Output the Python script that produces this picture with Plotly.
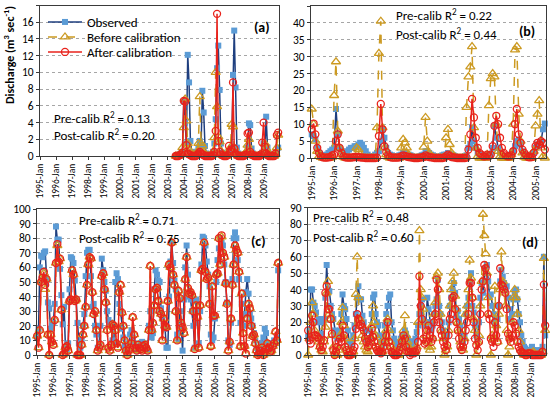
import plotly.graph_objects as go
import pandas as pd

# ---------------- data ----------------
months_a = pd.date_range('2003-07-01', '2009-12-01', freq='MS')
months_b = pd.date_range('1995-01-01', '2005-06-01', freq='MS')
months_cd = pd.date_range('1995-01-01', '2009-12-01', freq='MS')

# Panel (a)
a_obs = [0, 0, 0.1, 0.2, 0.3, 0.5,
         6.5, 4.0, 1.5, 12.1, 8.8, 1.8, 0.5, 0.2, 0.1, 0.3, 0.5, 1.0,
         1.8, 1.2, 7.8, 5.2, 1.2, 0.3, 0.1, 0.1, 0, 0.2, 0.5, 1.5,
         4.4, 10.5, 13.2, 7.9, 1.5, 0.4, 0.1, 0, 0, 0.2, 0.3, 0.5,
         1.0, 9.7, 15.0, 8.2, 1.0, 0.3, 0.1, 0, 0, 0.1, 0.2, 0.3,
         1.0, 3.9, 3.7, 0.9, 0.3, 0.1, 0, 0, 0, 0.1, 0.2, 0.4,
         1.5, 0.8, 4.7, 1.0, 0.3, 0.1, 0, 0, 0, 0.2, 0.5, 1.0]
a_before = [0, 0, 0, 0.1, 0.3, 1.0,
            3.4, 6.8, 4.2, 1.5, 0.8, 0.3, 0.1, 0, 0, 0.1, 0.5, 1.5,
            7.1, 1.5, 1.2, 0.5, 0.2, 0, 0, 0, 0, 0.1, 0.5, 2.2,
            10.0, 5.9, 2.3, 1.7, 0.6, 0.1, 0, 0, 0, 0.2, 0.6, 1.0,
            3.8, 3.5, 1.0, 0.4, 0.2, 0, 0, 0, 0, 0.1, 0.3, 0.5,
            1.3, 2.0, 0.5, 0.2, 0.1, 0, 0, 0, 0, 0, 0.1, 0.3,
            0.5, 1.5, 0.9, 0.2, 0.1, 0, 0, 0, 0, 0.2, 1.0, 2.5]
a_after = [0, 0, 0, 0.1, 0.2, 0.4,
           6.6, 6.5, 1.3, 0.3, 0.2, 0.1, 0, 0, 0, 0, 0.1, 0.3,
           0.5, 0.3, 0.2, 0.1, 0, 0, 0, 0, 0, 0, 0.1, 0.5,
           3.0, 17.0, 1.8, 0.5, 0.2, 0.1, 0, 0, 0, 0.1, 1.2, 0.6,
           0.8, 8.8, 0.9, 0.3, 0.1, 0, 0, 0, 0, 0, 0.1, 0.2,
           2.7, 2.8, 0.5, 0.2, 0.1, 0, 0, 0, 0, 0, 0.2, 1.6,
           4.0, 1.1, 0.3, 0.1, 0, 0, 0, 0, 0, 0.3, 2.5, 2.8]

# Panel (b)
b_obs = [7.0, 6.5, 5.5, 3.0, 1.5, 0.8, 0.5, 0.8, 1.0, 1.5, 2.0, 2.5,
         3.0, 14.5, 7.0, 3.0, 2.0, 1.5, 1.5, 2.0, 2.5, 3.0, 3.0, 3.5,
         3.5, 4.0, 4.5, 4.0, 3.0, 2.0, 1.0, 0.5, 0.3, 0.5, 1.0, 1.5,
         2.0, 5.0, 8.5, 6.0, 3.0, 1.5, 1.0, 0.8, 0.5, 0.5, 0.6, 0.8,
         1.0, 1.5, 1.5, 1.2, 1.0, 0.8, 0.5, 0.3, 0.3, 0.3, 0.5, 0.8,
         1.0, 2.0, 2.0, 1.5, 1.0, 0.8, 0.5, 0.3, 0.3, 0.5, 0.8, 1.0,
         1.0, 1.5, 1.2, 1.0, 0.8, 0.5, 0.3, 0.2, 0.2, 0.3, 0.5, 0.8,
         3.0, 4.0, 9.0, 5.0, 3.0, 1.5, 1.0, 0.5, 0.3, 0.5, 0.8, 1.0,
         1.0, 3.0, 9.5, 6.0, 3.0, 1.5, 0.8, 0.5, 0.3, 0.5, 0.8, 1.0,
         2.0, 3.5, 5.0, 5.5, 4.0, 2.0, 1.0, 0.5, 0.3, 0.5, 1.0, 1.5,
         3.0, 3.5, 4.0, 5.0, 8.5, 10.2]
b_before = [14.5, 10.0, 5.0, 2.0, 0.5, 0.2, 0, 0, 0, 0, 0, 0.3,
            18.5, 28.5, 8.0, 3.0, 1.0, 0.3, 0, 0, 0, 0, 0, 0,
            3.0, 2.5, 1.0, 0.3, 0, 0, 0, 0, 0, 0, 0, 9.0,
            31.0, 40.5, 9.0, 3.0, 1.0, 0.3, 0, 0, 0, 0, 0, 0,
            3.0, 5.5, 4.5, 3.0, 1.0, 0.3, 0, 0, 0, 0, 0, 0,
            3.2, 12.0, 5.0, 1.5, 0.5, 0.1, 0, 0, 0, 0, 0, 0.3,
            6.0, 8.5, 4.0, 1.5, 0.5, 0.1, 0, 0, 0, 0, 0, 15.0,
            24.0, 27.0, 33.0, 9.0, 3.0, 0.5, 0, 0, 0, 0, 0.5, 15.5,
            23.5, 25.0, 24.0, 10.0, 2.0, 0.5, 0, 0, 0, 0, 0, 1.0,
            10.0, 32.0, 33.0, 13.0, 5.0, 1.5, 0.3, 0, 0, 0, 0, 2.0,
            9.5, 13.0, 17.0, 3.0, 0.5, 0]
b_after = [8.5, 10.2, 7.0, 3.0, 1.5, 0.5, 0.2, 0.1, 0.1, 0.2, 0.3, 0.8,
           1.0, 5.0, 7.0, 3.0, 1.5, 0.5, 0.2, 0.1, 0.1, 0.1, 0.2, 0.3,
           0.3, 0.3, 0.2, 0.1, 0.1, 0, 0, 0, 0, 0, 0, 0.1,
           6.5, 16.0, 8.5, 3.5, 1.8, 0.8, 0.3, 0.1, 0.1, 0.1, 0.1, 0.2,
           0.5, 0.8, 0.6, 0.4, 0.3, 0.2, 0.1, 0, 0, 0, 0.1, 0.2,
           0.3, 0.8, 0.5, 0.3, 0.2, 0.1, 0, 0, 0, 0, 0, 0.1,
           0.5, 1.0, 0.6, 0.3, 0.2, 0.1, 0, 0, 0, 0, 0, 0.1,
           2.5, 7.0, 17.5, 12.0, 6.0, 3.0, 1.5, 1.0, 0.5, 0.5, 1.0, 0.5,
           1.0, 3.5, 9.5, 12.5, 10.0, 6.0, 3.0, 1.5, 0.8, 0.5, 0.5, 0.8,
           2.0, 10.0, 14.5, 7.0, 4.5, 2.5, 1.5, 0.8, 0.3, 0.2, 0.3, 1.5,
           3.5, 4.5, 4.0, 5.0, 4.5, 2.5]

# Panel (c)
c_obs = [12, 18, 60, 68, 67, 70, 71, 52, 36, 32, 18, 20,
         22, 35, 88, 79, 79, 59, 41, 21, 33, 5, 3, 8,
         45, 67, 66, 63, 51, 38, 22, 8, 5, 11, 20, 28,
         54, 70, 72, 72, 54, 33, 35, 20, 14, 5, 8, 20,
         66, 58, 50, 44, 30, 24, 22, 20, 10, 8, 50, 56,
         52, 35, 30, 18, 12, 6, 4, 3, 8, 14, 17, 12,
         8, 6, 4, 3, 5, 8, 9, 7, 6, 4, 3, 20,
         30, 12, 15, 45, 58, 55, 51, 50, 32, 25, 20, 18,
         5, 5, 40, 64, 77, 63, 51, 45, 14, 10, 30, 20,
         3, 38, 60, 75, 55, 40, 38, 30, 20, 5, 38, 22,
         8, 30, 62, 81, 80, 75, 64, 55, 47, 14, 10, 12,
         25, 50, 65, 73, 80, 77, 75, 62, 50, 36, 10, 7,
         22, 52, 80, 84, 80, 65, 52, 22, 35, 20, 28, 43,
         52, 42, 28, 25, 20, 15, 10, 5, 3, 2, 5, 8,
         12, 18, 15, 8, 5, 4, 6, 8, 10, 8, 12, 58]
c_before = [13, 5, 17, 50, 52, 56, 45, 52, 14, 0, 14, 9,
            7, 24, 63, 75, 64, 66, 31, 0, 1, 5, 6, 3,
            37, 38, 58, 55, 37, 38, 0, 0, 0, 7, 14, 20,
            33, 48, 62, 67, 66, 43, 28, 30, 17, 3, 5, 7,
            54, 56, 45, 36, 17, 5, 3, 7, 21, 20, 17, 8,
            5, 43, 48, 29, 20, 10, 3, 0, 3, 5, 8, 26,
            14, 5, 3, 7, 5, 4, 3, 6, 7, 5, 3, 17,
            61, 17, 22, 34, 45, 46, 37, 30, 28, 10, 25, 20,
            19, 37, 62, 60, 77, 55, 48, 30, 10, 44, 39, 22,
            19, 15, 52, 67, 46, 42, 43, 41, 30, 4, 34, 26,
            5, 34, 58, 59, 77, 57, 52, 53, 35, 6, 47, 27,
            27, 55, 56, 80, 62, 81, 70, 67, 49, 35, 3, 9,
            25, 48, 62, 75, 72, 70, 57, 6, 42, 15, 6, 1,
            25, 35, 32, 20, 13, 14, 8, 3, 0, 1, 3, 5,
            0, 2, 4, 8, 5, 2, 3, 6, 8, 16, 10, 63]
c_after = [13, 5, 17, 50, 53, 57, 48, 52, 14, 0, 14, 9,
           7, 24, 63, 76, 64, 66, 31, 0, 1, 5, 6, 3,
           37, 38, 58, 55, 37, 38, 0, 0, 0, 7, 14, 20,
           33, 48, 62, 67, 66, 43, 28, 30, 17, 3, 5, 7,
           54, 56, 45, 36, 17, 5, 3, 7, 21, 20, 17, 8,
           5, 43, 48, 29, 20, 10, 3, 0, 3, 5, 8, 26,
           14, 5, 3, 7, 5, 4, 3, 6, 7, 5, 3, 17,
           61, 17, 22, 34, 45, 46, 37, 30, 28, 10, 25, 20,
           19, 37, 62, 60, 77, 55, 48, 30, 10, 44, 39, 22,
           19, 15, 52, 67, 46, 42, 43, 41, 30, 4, 34, 26,
           5, 34, 58, 59, 77, 57, 52, 53, 35, 6, 47, 27,
           27, 55, 56, 80, 62, 82, 70, 67, 49, 35, 3, 9,
           25, 48, 62, 75, 72, 70, 57, 6, 42, 15, 6, 1,
           25, 35, 32, 20, 13, 14, 8, 3, 0, 1, 3, 5,
           0, 2, 4, 8, 5, 2, 3, 6, 8, 16, 10, 63]

# Panel (d)
d_obs = [11, 15, 40, 40, 32, 30, 26, 20, 22, 12, 13, 20,
         22, 35, 55, 40, 39, 30, 25, 22, 15, 12, 10, 12,
         15, 25, 37, 30, 28, 22, 15, 8, 6, 8, 12, 18,
         25, 35, 42, 34, 34, 24, 20, 15, 10, 8, 10, 15,
         25, 35, 37, 25, 20, 18, 12, 8, 6, 10, 18, 25,
         30, 35, 37, 20, 15, 10, 8, 5, 5, 6, 10, 12,
         12, 15, 13, 10, 8, 5, 4, 5, 8, 10, 14, 18,
         25, 30, 34, 22, 18, 20, 35, 28, 20, 15, 18, 25,
         30, 34, 46, 30, 25, 20, 15, 12, 10, 12, 20, 30,
         35, 40, 44, 38, 24, 27, 22, 18, 10, 8, 12, 25,
         30, 35, 45, 50, 30, 26, 18, 12, 10, 20, 35, 44,
         38, 45, 53, 55, 45, 36, 37, 30, 25, 20, 18, 22,
         30, 45, 52, 48, 44, 40, 42, 35, 28, 22, 25, 34,
         38, 40, 34, 25, 20, 12, 8, 5, 4, 3, 3, 2,
         3, 5, 3, 2, 2, 3, 2, 2, 3, 5, 60, 12]
d_before = [0, 10, 20, 32, 25, 15, 12, 10, 8, 5, 3, 2,
            8, 17, 38, 45, 25, 22, 12, 5, 2, 0, 0, 3,
            12, 20, 29, 18, 10, 5, 2, 0, 0, 0, 2, 10,
            37, 60, 35, 22, 18, 12, 8, 5, 3, 2, 5, 10,
            18, 30, 20, 12, 8, 5, 3, 2, 2, 5, 10, 15,
            22, 15, 8, 5, 3, 2, 1, 0, 0, 2, 5, 10,
            15, 24, 12, 8, 5, 3, 2, 1, 1, 2, 5, 20,
            76, 40, 35, 28, 20, 12, 8, 5, 3, 5, 10, 25,
            32, 48, 50, 40, 25, 15, 10, 0, 3, 5, 15, 30,
            40, 45, 50, 36, 28, 20, 15, 8, 5, 3, 10, 25,
            30, 40, 58, 47, 35, 22, 15, 0, 8, 12, 30, 45,
            86, 73, 62, 50, 35, 25, 0, 12, 10, 42, 18, 8,
            25, 40, 63, 45, 38, 30, 15, 0, 5, 10, 20, 35,
            40, 35, 25, 15, 8, 3, 1, 0, 0, 0, 1, 1,
            1, 1, 2, 1, 0, 0, 0, 0, 0, 2, 59, 15]
d_after = [15, 9, 7, 24, 20, 12, 12, 11, 10, 5, 3, 5,
           9, 38, 42, 28, 28, 22, 13, 3, 0, 2, 5, 8,
           10, 8, 18, 12, 5, 3, 0, 0, 0, 1, 3, 5,
           16, 25, 22, 18, 19, 17, 15, 10, 8, 5, 6, 10,
           16, 11, 8, 5, 3, 2, 2, 1, 2, 5, 8, 12,
           20, 8, 5, 2, 1, 0, 0, 0, 1, 3, 5, 8,
           12, 10, 5, 2, 2, 0, 1, 2, 1, 2, 3, 8,
           48, 30, 22, 10, 7, 8, 15, 18, 12, 8, 10, 20,
           25, 46, 40, 20, 15, 12, 8, 5, 3, 6, 12, 22,
           25, 35, 36, 28, 20, 15, 10, 5, 3, 5, 8, 15,
           20, 25, 44, 44, 35, 20, 10, 6, 3, 8, 25, 40,
           45, 55, 53, 48, 25, 22, 10, 8, 5, 20, 12, 8,
           30, 53, 43, 42, 40, 38, 28, 13, 10, 8, 12, 20,
           18, 13, 8, 5, 3, 2, 1, 1, 0, 0, 1, 1,
           1, 0, 0, 0, 0, 0, 0, 0, 0, 2, 43, 18]

series_names = ['Observed', 'Before calibration', 'After calibration']
panel_labels = ['(a)', '(b)', '(c)', '(d)']
pre_r2 = ['0.13', '0.22', '0.71', '0.48']
post_r2 = ['0.20', '0.44', '0.75', '0.60']
y_max = [18, 45, 100, 90]
y_step = [2, 5, 10, 10]
y_title = 'Discharge (m<sup>3</sup> sec<sup>-1</sup>)'

# ---------------- styling ----------------
FONT = 'Carlito, Calibri, Lato, Arial, sans-serif'
OBS_LINE = '#1f3f7f'
OBS_MARK = '#5b9bd5'
BEF_COL = '#cc9a22'
AFT_COL = '#e8231c'

W, H = 550, 400
def px_x(a, b):
    return [a / W, b / W]
def px_y(top, bot):
    return [(H - bot) / H, (H - top) / H]

domains = [
    (px_x(40, 279), px_y(5.5, 156)),
    (px_x(311, 546), px_y(6, 158)),
    (px_x(37, 279), px_y(209, 355)),
    (px_x(308, 546), px_y(207.7, 355)),
]
x_ranges = [
    ['1994-12-28', '2009-12-20'],
    ['1994-12-20', '2005-06-20'],
    ['1994-12-28', '2009-12-20'],
    ['1994-12-28', '2009-12-20'],
]

panels = [
    (months_a, a_obs, a_before, a_after),
    (months_b, b_obs, b_before, b_after),
    (months_cd, c_obs, c_before, c_after),
    (months_cd, d_obs, d_before, d_after),
]
legend_ids = ['legend', 'legend2', 'legend3']
legend_rows = [22, 37, 52]

fig = go.Figure()
for i, (mx, obs, bef, aft) in enumerate(panels):
    xa = 'x' if i == 0 else f'x{i+1}'
    ya = 'y' if i == 0 else f'y{i+1}'
    show = (i == 0)
    fig.add_trace(go.Scatter(
        x=mx, y=obs, name=series_names[0], xaxis=xa, yaxis=ya, showlegend=show,
        legend=legend_ids[0],
        mode='lines+markers', line=dict(color=OBS_LINE, width=1.5),
        marker=dict(symbol='square', size=6, color=OBS_MARK), cliponaxis=False))
    fig.add_trace(go.Scatter(
        x=mx, y=bef, name=series_names[1], xaxis=xa, yaxis=ya, showlegend=show,
        legend=legend_ids[1],
        mode='lines+markers', line=dict(color=BEF_COL, width=1.5, dash='dash'),
        marker=dict(symbol='triangle-up-open', size=8, color=BEF_COL,
                    line=dict(width=1.3, color=BEF_COL)), cliponaxis=False))
    fig.add_trace(go.Scatter(
        x=mx, y=aft, name=series_names[2], xaxis=xa, yaxis=ya, showlegend=show,
        legend=legend_ids[2],
        mode='lines+markers', line=dict(color=AFT_COL, width=1.5),
        marker=dict(symbol='circle-open', size=7, color=AFT_COL,
                    line=dict(width=1.3, color=AFT_COL)), cliponaxis=False))

layout = dict(
    width=W, height=H, margin=dict(l=0, r=0, t=0, b=0, pad=0, autoexpand=False),
    paper_bgcolor='white', plot_bgcolor='white',
    font=dict(family=FONT, size=12, color='#000000'),
)
for lid, row in zip(legend_ids, legend_rows):
    layout[lid] = dict(x=43 / W, y=(H - row) / H, xanchor='left', yanchor='middle',
                       bgcolor='rgba(0,0,0,0)', font=dict(size=13, family=FONT),
                       itemwidth=34)

annotations = []
for i in range(4):
    sx = '' if i == 0 else str(i + 1)
    dx, dy = domains[i]
    layout['xaxis' + sx] = dict(
        domain=dx, anchor='y' + sx, type='date', range=x_ranges[i],
        tick0='1995-01-01', dtick='M12', tickformat='%Y-%b', tickangle=-90,
        tickfont=dict(size=9.5, family=FONT), showgrid=False, automargin=False,
        showline=True, mirror=True, linecolor='#3a3a3a', linewidth=1,
        ticks='outside', ticklen=3, tickcolor='#3a3a3a', zeroline=False)
    layout['yaxis' + sx] = dict(
        domain=dy, anchor='x' + sx, range=[0, y_max[i]], dtick=y_step[i],
        tickfont=dict(size=11.5, family=FONT), showgrid=True, automargin=False,
        gridcolor='#a6a6a6', griddash='dot', gridwidth=1,
        showline=True, mirror=True, linecolor='#3a3a3a', linewidth=1,
        ticks='outside', ticklen=3, tickcolor='#3a3a3a', zeroline=False)

# y-axis title of panel (a)
annotations.append(dict(
    x=9 / W, y=(H - 55) / H, xref='paper', yref='paper',
    text='<b>' + y_title + '</b>', textangle=-90, showarrow=False,
    font=dict(size=12, family=FONT), xanchor='center', yanchor='middle'))

# panel labels
label_pos = [(262, 28), (527, 32), (258, 241), (530, 242)]
for i, (lx, ly) in enumerate(label_pos):
    annotations.append(dict(
        x=lx / W, y=(H - ly) / H, xref='paper', yref='paper',
        text='<b>' + panel_labels[i] + '</b>', showarrow=False,
        font=dict(size=14, family=FONT), xanchor='center', yanchor='middle'))

# R2 text
r2_pos = [((52, 117), (52, 134)), ((394, 15), (394, 33)),
          ((77, 219), (77, 237)), ((311, 216), (311, 236))]
for i, ((x1, y1), (x2, y2)) in enumerate(r2_pos):
    annotations.append(dict(
        x=x1 / W, y=(H - y1) / H, xref='paper', yref='paper',
        text='Pre-calib R<sup>2</sup> = ' + pre_r2[i], showarrow=False,
        font=dict(size=13, family=FONT), xanchor='left', yanchor='middle'))
    annotations.append(dict(
        x=x2 / W, y=(H - y2) / H, xref='paper', yref='paper',
        text='Post-calib R<sup>2</sup> = ' + post_r2[i], showarrow=False,
        font=dict(size=13, family=FONT), xanchor='left', yanchor='middle'))

layout['annotations'] = annotations
fig.update_layout(**layout)
fig.write_html('out.html', config={'displayModeBar': False},
               post_script="document.body.style.margin='0px';")
